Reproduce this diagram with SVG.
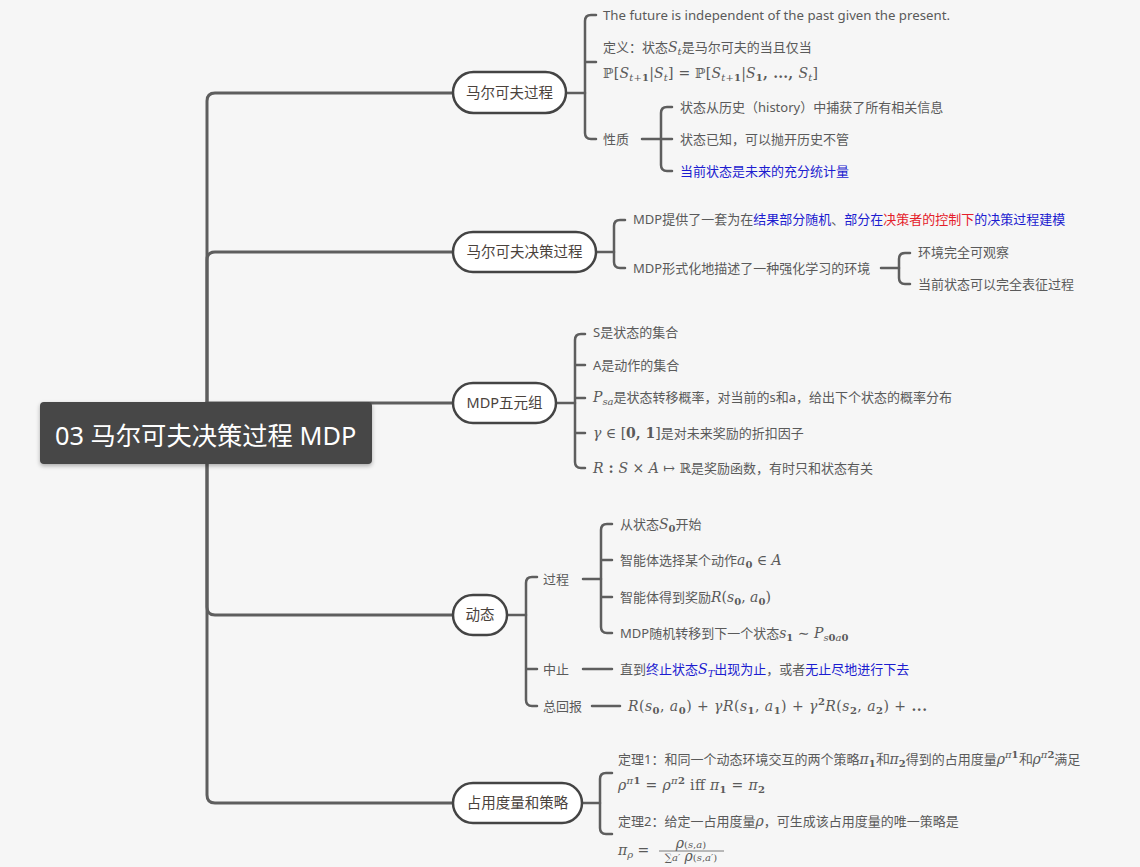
<svg xmlns="http://www.w3.org/2000/svg" width="1140" height="867" viewBox="0 0 1140 867">
<defs>
<filter id="sh" x="-10%" y="-20%" width="120%" height="150%"><feDropShadow dx="0" dy="2" stdDeviation="2" flood-color="#000" flood-opacity="0.3"/></filter>
<style>
.t{font-family:'Noto Sans','Noto Sans CJK SC',sans-serif;font-size:13px;fill:#5a5a5a}
.nt{font-family:'Noto Sans','Noto Sans CJK SC',sans-serif;font-size:14.5px;fill:#4a423c;text-anchor:middle}
.node{fill:#ffffff;stroke:#444444;stroke-width:2.5}
.c{fill:none;stroke:#5e5e5e;stroke-width:3;stroke-linecap:round}
.c2{fill:none;stroke:#5e5e5e;stroke-width:2.5;stroke-linecap:round}
.mi{font-family:'DejaVu Serif',serif;font-style:italic;font-size:14px}
.mr{font-family:'DejaVu Serif',serif;font-size:14px}
.mb{font-family:'DejaVu Serif',serif;font-weight:bold;font-size:14px}
.si{font-family:'DejaVu Serif',serif;font-style:italic;font-size:10px}
.sr{font-family:'DejaVu Serif',serif;font-size:10px}
.sb{font-family:'DejaVu Serif',serif;font-weight:bold;font-size:10px}
.b{fill:#1c1cd0}
.r{fill:#e5202a}
</style>
</defs>
<rect width="1140" height="867" fill="#f6f6f6"/>

<g id="connectors">
<path class="c" d="M207,430 V101 Q207,93 215,93 H453"/>
<path class="c" d="M207,430 V260 Q207,252 215,252 H453"/>
<path class="c" d="M207,430 V403 H453"/>
<path class="c" d="M207,440 V607 Q207,615 215,615 H453"/>
<path class="c" d="M207,440 V795 Q207,803 215,803 H453"/>
<path class="c2" d="M566,93 H585"/>
<path class="c2" d="M596,15 H591 Q585,15 585,21 V133 Q585,139 591,139 H596 M585,62 H596"/>
<path class="c2" d="M642,139 H661"/>
<path class="c2" d="M672,107 H667 Q661,107 661,113 V165 Q661,171 667,171 H672 M661,139 H672"/>
<path class="c2" d="M596,252 H614"/>
<path class="c2" d="M625,220 H620 Q614,220 614,226 V262 Q614,268 620,268 H625"/>
<path class="c2" d="M881,268 H899"/>
<path class="c2" d="M910,253 H905 Q899,253 899,259 V278 Q899,284 905,284 H910"/>
<path class="c2" d="M556,403 H575"/>
<path class="c2" d="M585,334 H581 Q575,334 575,340 V462 Q575,468 581,468 H585 M575,365 H585 M575,398 H585 M575,433 H585"/>
<path class="c2" d="M507,615 H526"/>
<path class="c2" d="M537,577 H532 Q526,577 526,583 V700 Q526,706 532,706 H537 M526,669 H537"/>
<path class="c2" d="M583,579 H601"/>
<path class="c2" d="M612,524 H607 Q601,524 601,530 V627 Q601,633 607,633 H612 M601,560 H612 M601,597 H612"/>
<path class="c2" d="M583,669 H612"/>
<path class="c2" d="M592,706 H620"/>
<path class="c2" d="M582,803 H600"/>
<path class="c2" d="M612,773 H606 Q600,773 600,779 V828 Q600,834 606,834 H612"/>
</g>

<g id="root">
<rect x="40" y="402" width="332" height="62" rx="4" fill="#464646" filter="url(#sh)"/>
<text x="55" y="445" font-family="'Noto Sans','Noto Sans CJK SC',sans-serif" font-size="25.3" fill="#ffffff">03 马尔可夫决策过程 MDP</text>
</g>

<g id="n1">
<rect class="node" x="453" y="72" width="113" height="41" rx="20.5"/>
<text class="nt" x="509.5" y="98">马尔可夫过程</text>
</g>
<g id="n1-items">
<text class="t" x="603" y="20" textLength="347" lengthAdjust="spacingAndGlyphs">The future is independent of the past given the present.</text>
<text class="t" x="603" y="52">定义：状态<tspan class="mi">S</tspan><tspan class="si" dy="3">t</tspan><tspan dy="-3">是马尔可夫的当且仅当</tspan></text>
<text class="t" x="603" y="78" textLength="215"><tspan class="mr" font-size="16">ℙ[</tspan><tspan class="mi" font-size="16">S</tspan><tspan class="si" dy="3">t</tspan><tspan class="sr">+</tspan><tspan class="sb">1</tspan><tspan class="mr" font-size="16" dy="-3">|</tspan><tspan class="mi" font-size="16">S</tspan><tspan class="si" dy="3">t</tspan><tspan class="mr" font-size="16" dy="-3">] = ℙ[</tspan><tspan class="mi" font-size="16">S</tspan><tspan class="si" dy="3">t</tspan><tspan class="sr">+</tspan><tspan class="sb">1</tspan><tspan class="mr" font-size="16" dy="-3">|</tspan><tspan class="mi" font-size="16">S</tspan><tspan class="sb" dy="3">1</tspan><tspan class="mb" font-size="16" dy="-3">, ..., </tspan><tspan class="mi" font-size="16">S</tspan><tspan class="si" dy="3">t</tspan><tspan class="mr" font-size="16" dy="-3">]</tspan></text>
<text class="t" x="603" y="144">性质</text>
<text class="t" x="680" y="112">状态从历史（history）中捕获了所有相关信息</text>
<text class="t" x="680" y="144">状态已知，可以抛开历史不管</text>
<text class="t b" x="680" y="176">当前状态是未来的充分统计量</text>
</g>

<g id="n2">
<rect class="node" x="453" y="232" width="143" height="40" rx="20"/>
<text class="nt" x="524.5" y="257">马尔可夫决策过程</text>
</g>
<g id="n2-items">
<text class="t" x="633" y="224">MDP提供了一套为在<tspan class="b">结果部分随机</tspan>、<tspan class="b">部分在</tspan><tspan class="r">决策者的控制下</tspan><tspan class="b">的决策过程建模</tspan></text>
<text class="t" x="633" y="273">MDP形式化地描述了一种强化学习的环境</text>
<text class="t" x="918" y="257">环境完全可观察</text>
<text class="t" x="918" y="289">当前状态可以完全表征过程</text>
</g>

<g id="n3">
<rect class="node" x="453" y="383" width="103" height="40" rx="20"/>
<text class="nt" x="504.5" y="408">MDP五元组</text>
</g>
<g id="n3-items">
<text class="t" x="593" y="337">S是状态的集合</text>
<text class="t" x="593" y="370">A是动作的集合</text>
<text class="t" x="593" y="402"><tspan class="mi">P</tspan><tspan class="si" dy="3">sa</tspan><tspan dy="-3">是状态转移概率，对当前的s和a，给出下个状态的概率分布</tspan></text>
<text class="t" x="593" y="438"><tspan class="mi">γ</tspan><tspan class="mr"> ∈ [</tspan><tspan class="mb">0, 1</tspan><tspan class="mr">]</tspan>是对未来奖励的折扣因子</text>
<text class="t" x="593" y="473"><tspan class="mi">R</tspan><tspan class="mb"> : </tspan><tspan class="mi">S</tspan><tspan class="mr"> × </tspan><tspan class="mi">A</tspan><tspan class="mr"> ↦ ℝ</tspan>是奖励函数，有时只和状态有关</text>
</g>

<g id="n4">
<rect class="node" x="453" y="595" width="54" height="40" rx="20"/>
<text class="nt" x="480" y="620">动态</text>
</g>
<g id="n4-items">
<text class="t" x="543" y="584">过程</text>
<text class="t" x="543" y="674">中止</text>
<text class="t" x="543" y="711">总回报</text>
<text class="t" x="620" y="529">从状态<tspan class="mi">S</tspan><tspan class="sb" dy="3">0</tspan><tspan dy="-3">开始</tspan></text>
<text class="t" x="620" y="565">智能体选择某个动作<tspan class="mi">a</tspan><tspan class="sb" dy="3">0</tspan><tspan class="mr" dy="-3"> ∈ </tspan><tspan class="mi">A</tspan></text>
<text class="t" x="620" y="602">智能体得到奖励<tspan class="mi">R</tspan><tspan class="mr">(</tspan><tspan class="mi">s</tspan><tspan class="sb" dy="3">0</tspan><tspan class="mr" dy="-3">, </tspan><tspan class="mi">a</tspan><tspan class="sb" dy="3">0</tspan><tspan class="mr" dy="-3">)</tspan></text>
<text class="t" x="620" y="638">MDP随机转移到下一个状态<tspan class="mi">s</tspan><tspan class="sb" dy="3">1</tspan><tspan class="mr" dy="-3"> ∼ </tspan><tspan class="mi">P</tspan><tspan class="si" dy="3">s</tspan><tspan class="sb">0</tspan><tspan class="si">a</tspan><tspan class="sb">0</tspan></text>
<text class="t" x="620" y="674">直到<tspan class="b">终止状态</tspan><tspan class="mi b">S</tspan><tspan class="si b" dy="3">T</tspan><tspan class="b" dy="-3">出现为止</tspan>，或者<tspan class="b">无止尽地进行下去</tspan></text>
<text class="t" x="628" y="711" textLength="299"><tspan class="mi" font-size="16.5">R</tspan><tspan class="mr" font-size="16.5">(</tspan><tspan class="mi" font-size="16.5">s</tspan><tspan class="sb" font-size="11.5" dy="3">0</tspan><tspan class="mr" font-size="16.5" dy="-3">, </tspan><tspan class="mi" font-size="16.5">a</tspan><tspan class="sb" font-size="11.5" dy="3">0</tspan><tspan class="mr" font-size="16.5" dy="-3">) + </tspan><tspan class="mi" font-size="16.5">γR</tspan><tspan class="mr" font-size="16.5">(</tspan><tspan class="mi" font-size="16.5">s</tspan><tspan class="sb" font-size="11.5" dy="3">1</tspan><tspan class="mr" font-size="16.5" dy="-3">, </tspan><tspan class="mi" font-size="16.5">a</tspan><tspan class="sb" font-size="11.5" dy="3">1</tspan><tspan class="mr" font-size="16.5" dy="-3">) + </tspan><tspan class="mi" font-size="16.5">γ</tspan><tspan class="sb" font-size="11.5" dy="-6">2</tspan><tspan class="mi" font-size="16.5" dy="6">R</tspan><tspan class="mr" font-size="16.5">(</tspan><tspan class="mi" font-size="16.5">s</tspan><tspan class="sb" font-size="11.5" dy="3">2</tspan><tspan class="mr" font-size="16.5" dy="-3">, </tspan><tspan class="mi" font-size="16.5">a</tspan><tspan class="sb" font-size="11.5" dy="3">2</tspan><tspan class="mr" font-size="16.5" dy="-3">) + </tspan><tspan class="mb" font-size="16.5">...</tspan></text>
</g>

<g id="n5">
<rect class="node" x="453" y="783" width="129" height="40" rx="20"/>
<text class="nt" x="517.5" y="808">占用度量和策略</text>
</g>
<g id="n5-items">
<text class="t" x="618" y="764">定理1：和同一个动态环境交互的两个策略<tspan class="mi">π</tspan><tspan class="sb" dy="3">1</tspan><tspan class="mr" dy="-3">和</tspan><tspan class="mi">π</tspan><tspan class="sb" dy="3">2</tspan><tspan dy="-3">得到的占用度量</tspan><tspan class="mi">ρ</tspan><tspan class="si" dy="-6">π</tspan><tspan class="sb">1</tspan><tspan class="mr" dy="6">和</tspan><tspan class="mi">ρ</tspan><tspan class="si" dy="-6">π</tspan><tspan class="sb">2</tspan><tspan dy="6">满足</tspan></text>
<text class="t" x="618" y="790" textLength="147"><tspan class="mi">ρ</tspan><tspan class="si" dy="-6">π</tspan><tspan class="sb">1</tspan><tspan class="mr" dy="6"> = </tspan><tspan class="mi">ρ</tspan><tspan class="si" dy="-6">π</tspan><tspan class="sb">2</tspan><tspan class="mr" dy="6"> iff </tspan><tspan class="mi">π</tspan><tspan class="sb" dy="3">1</tspan><tspan class="mr" dy="-3"> = </tspan><tspan class="mi">π</tspan><tspan class="sb" dy="3">2</tspan></text>
<text class="t" x="618" y="826">定理2：给定一占用度量<tspan class="mi">ρ</tspan>，可生成该占用度量的唯一策略是</text>
<text class="t" x="618" y="855"><tspan class="mi">π</tspan><tspan class="si" dy="3">ρ</tspan><tspan class="mr" dy="-3"> = </tspan></text>
<text class="t" x="691" y="848" text-anchor="middle"><tspan class="mi" font-size="11">ρ</tspan><tspan class="sr" font-size="11">(</tspan><tspan class="si" font-size="11">s</tspan><tspan class="sr" font-size="11">,</tspan><tspan class="si" font-size="11">a</tspan><tspan class="sr" font-size="11">)</tspan></text>
<line x1="659" y1="851" x2="724" y2="851" stroke="#5a5a5a" stroke-width="0.8"/>
<text class="t" x="691" y="861" text-anchor="middle"><tspan class="sr" font-size="11">∑</tspan><tspan class="si" font-size="8">a′</tspan><tspan class="mi" font-size="11"> ρ</tspan><tspan class="sr" font-size="11">(</tspan><tspan class="si" font-size="11">s</tspan><tspan class="sr" font-size="11">,</tspan><tspan class="si" font-size="11">a′</tspan><tspan class="sr" font-size="11">)</tspan></text>
</g>
</svg>
